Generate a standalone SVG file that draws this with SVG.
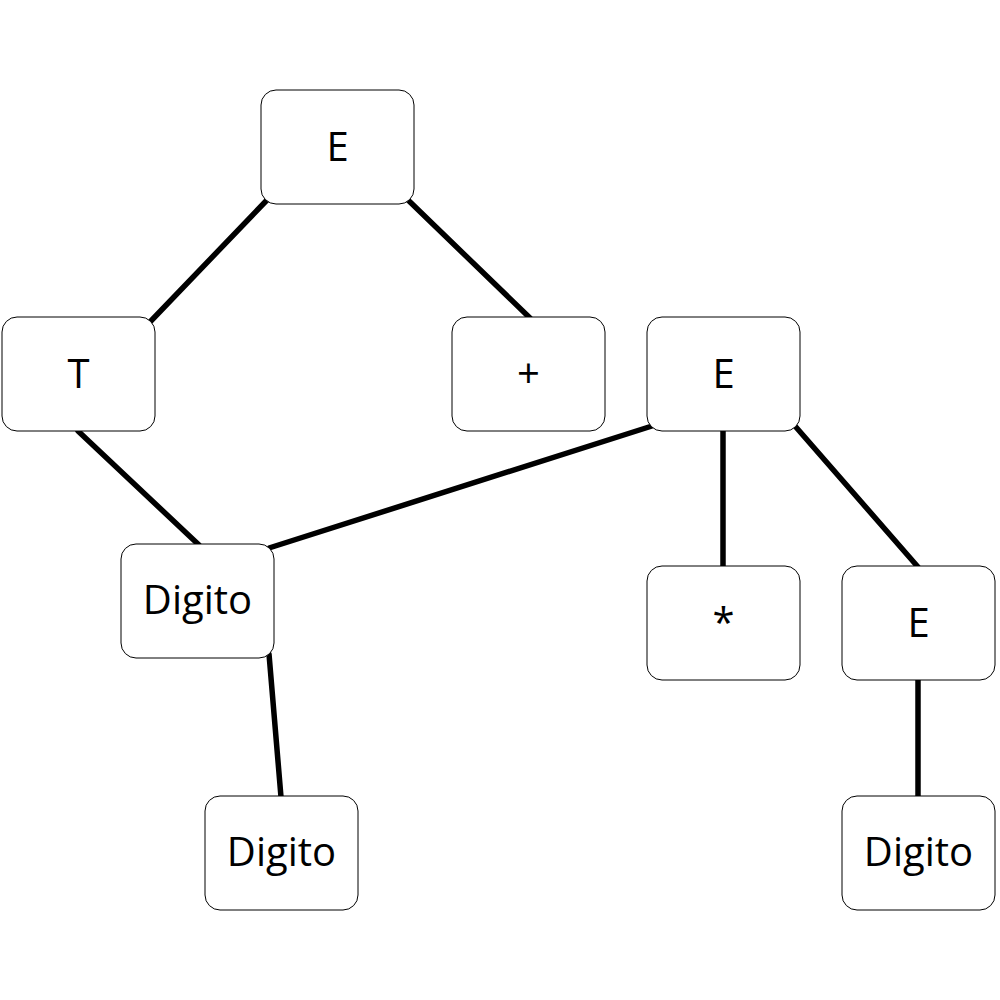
<svg xmlns="http://www.w3.org/2000/svg" width="1000" height="1000" viewBox="0 0 1000 1000">
<style>
.box{fill:#fff;stroke:#000;stroke-width:1}
.lbl{font-family:"Open Sans","Liberation Sans",sans-serif;font-size:40px;text-anchor:middle;fill:#000}
.edge{stroke:#000;stroke-width:5.5;stroke-linecap:round;fill:none}
</style>
<rect width="1000" height="1000" fill="#fff"/>
<g id="connectors">
<line class="edge" x1="267" y1="200" x2="149" y2="323"/>
<line class="edge" x1="408" y1="200" x2="530" y2="318"/>
<line class="edge" x1="78" y1="431" x2="199" y2="545"/>
<line class="edge" x1="652" y1="426" x2="269" y2="548"/>
<line class="edge" x1="723" y1="431" x2="723" y2="567"/>
<line class="edge" x1="795" y1="426" x2="918" y2="567"/>
<line class="edge" x1="269" y1="654" x2="281" y2="797"/>
<line class="edge" x1="918" y1="680" x2="918" y2="797"/>
</g>
<g id="n_E_top"><rect class="box" x="261" y="90" width="153" height="114" rx="15"/><text class="lbl" x="337.5" y="161">E</text></g>
<g id="n_T"><rect class="box" x="2" y="317" width="153" height="114" rx="15"/><text class="lbl" x="78.5" y="388">T</text></g>
<g id="n_plus"><rect class="box" x="452" y="317" width="153" height="114" rx="15"/><text class="lbl" x="528.5" y="388">+</text></g>
<g id="n_E_mid"><rect class="box" x="647" y="317" width="153" height="114" rx="15"/><text class="lbl" x="723.5" y="388">E</text></g>
<g id="n_Digito1"><rect class="box" x="121" y="544" width="153" height="114" rx="15"/><text class="lbl" x="197.5" y="614">Digito</text></g>
<g id="n_star"><rect class="box" x="647" y="566" width="153" height="114" rx="15"/><text class="lbl" x="723.5" y="637">*</text></g>
<g id="n_E_right"><rect class="box" x="842" y="566" width="153" height="114" rx="15"/><text class="lbl" x="918.5" y="637">E</text></g>
<g id="n_Digito2"><rect class="box" x="205" y="796" width="153" height="114" rx="15"/><text class="lbl" x="281.5" y="866">Digito</text></g>
<g id="n_Digito3"><rect class="box" x="842" y="796" width="153" height="114" rx="15"/><text class="lbl" x="918.5" y="866">Digito</text></g>
</svg>
